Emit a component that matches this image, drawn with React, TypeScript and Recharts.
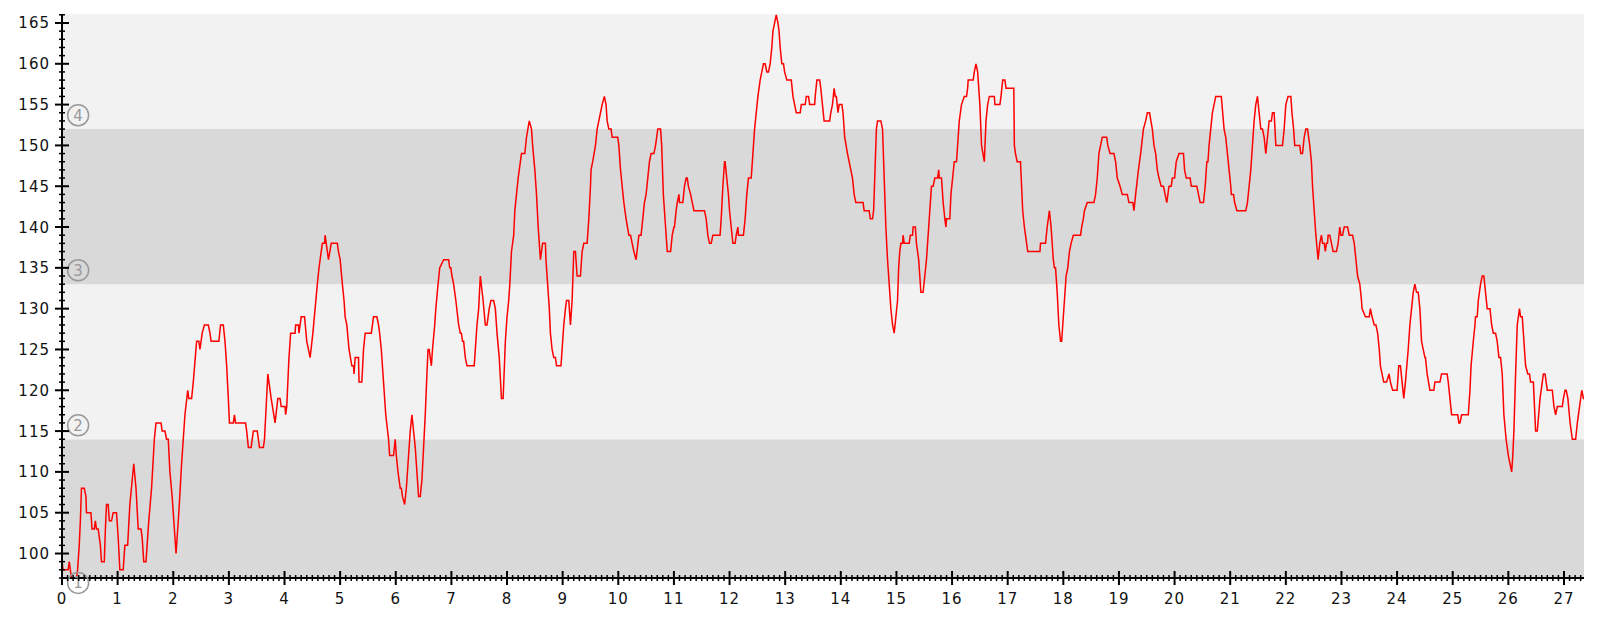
import React from 'react';
import { LineChart, Line, XAxis, YAxis, ReferenceArea, ReferenceDot } from 'recharts';

// heart rate samples as [minute, bpm], split by stretch of the session
const warmUp: [number, number][] = [
  [0, 99], [0.02, 98], [0.11, 98], [0.13, 99], [0.15, 98], [0.17, 97], [0.26, 97], [0.28, 98], [0.31, 101], [0.33, 104],
  [0.35, 108], [0.4, 108], [0.43, 107], [0.44, 105], [0.52, 105], [0.54, 103], [0.58, 103], [0.6, 104], [0.62, 103], [0.65, 103],
  [0.67, 102], [0.69, 101], [0.71, 99], [0.76, 99], [0.78, 103], [0.8, 106], [0.83, 106], [0.85, 104], [0.89, 104], [0.92, 105],
  [0.98, 105], [1.01, 102], [1.04, 98], [1.1, 98], [1.13, 101], [1.18, 101], [1.22, 106], [1.29, 111], [1.33, 108], [1.37, 103],
  [1.42, 103], [1.44, 102], [1.47, 99], [1.51, 99], [1.56, 104], [1.61, 108], [1.66, 114], [1.69, 116], [1.78, 116], [1.8, 115],
  [1.85, 115], [1.88, 114], [1.91, 114], [1.94, 110], [1.98, 107], [2.02, 103], [2.05, 100], [2.1, 105], [2.15, 111], [2.18, 114],
  [2.21, 117], [2.26, 120], [2.28, 119], [2.33, 119], [2.36, 121], [2.42, 126], [2.46, 126], [2.48, 125], [2.52, 127], [2.56, 128],
  [2.63, 128], [2.66, 127], [2.68, 126], [2.82, 126], [2.85, 128], [2.9, 128], [2.93, 126], [2.96, 123], [2.99, 119], [3.01, 116],
  [3.08, 116], [3.1, 117], [3.12, 116], [3.3, 116], [3.32, 115], [3.35, 113], [3.4, 113],
];

const buildUp: [number, number][] = [
  [3.44, 115], [3.51, 115], [3.53, 114], [3.55, 113], [3.62, 113], [3.64, 114], [3.7, 122], [3.76, 119], [3.83, 116], [3.88, 119],
  [3.92, 119], [3.94, 118], [4.01, 118], [4.02, 117], [4.04, 118], [4.08, 124], [4.11, 127], [4.19, 127], [4.2, 128], [4.25, 128],
  [4.26, 127], [4.3, 129], [4.36, 129], [4.4, 126], [4.43, 125], [4.46, 124], [4.51, 127], [4.55, 130], [4.59, 133], [4.62, 135],
  [4.64, 136], [4.68, 138], [4.72, 138], [4.73, 139], [4.75, 138], [4.79, 136], [4.84, 138], [4.95, 138], [4.97, 137], [5.0, 136],
  [5.04, 133], [5.07, 131], [5.09, 129], [5.12, 128], [5.16, 125], [5.21, 123], [5.24, 123], [5.25, 122], [5.27, 124], [5.33, 124],
  [5.34, 121], [5.39, 121], [5.42, 125], [5.45, 127], [5.56, 127], [5.6, 129], [5.66, 129], [5.69, 128], [5.71, 127], [5.74, 125],
  [5.78, 121], [5.82, 117], [5.87, 114], [5.89, 112], [5.96, 112], [5.99, 114], [6.01, 112], [6.04, 110], [6.08, 108], [6.1, 108],
  [6.12, 107], [6.16, 106], [6.19, 108], [6.22, 111], [6.26, 115], [6.29, 117], [6.32, 115], [6.35, 113], [6.38, 110], [6.4, 108],
  [6.41, 107], [6.44, 107], [6.47, 109], [6.5, 113], [6.53, 117], [6.56, 122], [6.58, 125], [6.6, 125], [6.64, 123], [6.66, 125],
  [6.7, 128], [6.72, 130], [6.76, 133], [6.79, 135],
];

const firstClimb: [number, number][] = [
  [6.86, 136], [6.95, 136], [6.97, 135], [6.99, 135], [7.01, 134], [7.04, 133], [7.08, 131], [7.13, 128], [7.16, 127], [7.18, 127],
  [7.2, 126], [7.22, 126], [7.25, 124], [7.28, 123], [7.41, 123], [7.46, 128], [7.49, 130], [7.52, 134], [7.57, 131], [7.61, 128],
  [7.64, 128], [7.68, 130], [7.71, 131], [7.76, 131], [7.79, 130], [7.82, 127], [7.86, 124], [7.9, 119], [7.93, 119], [7.97, 126],
  [8.0, 129], [8.03, 131], [8.05, 133], [8.08, 137], [8.12, 139], [8.14, 142], [8.17, 144], [8.2, 146], [8.26, 149], [8.32, 149],
  [8.35, 151], [8.4, 153], [8.44, 152], [8.46, 150], [8.5, 147], [8.53, 144], [8.56, 140], [8.58, 138], [8.6, 136], [8.62, 137],
  [8.64, 138], [8.69, 138], [8.7, 136], [8.73, 133], [8.76, 130], [8.78, 127], [8.81, 125], [8.84, 124], [8.87, 124], [8.89, 123],
  [8.97, 123], [8.99, 125], [9.02, 128], [9.05, 130], [9.07, 131], [9.11, 131], [9.12, 130], [9.14, 128], [9.17, 131], [9.2, 137],
  [9.23, 137], [9.26, 134], [9.32, 134], [9.35, 137], [9.38, 138], [9.44, 138], [9.47, 141], [9.5, 145], [9.51, 147], [9.54, 148],
  [9.59, 150], [9.62, 152], [9.65, 153], [9.68, 154], [9.71, 155], [9.75, 156], [9.78, 155], [9.8, 153], [9.83, 152], [9.87, 152],
  [9.89, 151], [9.99, 151], [10.01, 150], [10.04, 147], [10.07, 145], [10.1, 143], [10.14, 141], [10.19, 139], [10.22, 139], [10.25, 138],
  [10.28, 137], [10.32, 136],
];

const peak: [number, number][] = [
  [10.37, 139], [10.41, 139], [10.44, 141], [10.47, 143], [10.5, 144], [10.53, 146], [10.56, 148], [10.59, 149], [10.64, 149], [10.67, 150],
  [10.71, 152], [10.76, 152], [10.78, 150], [10.79, 148], [10.81, 144], [10.83, 142], [10.85, 140], [10.87, 138], [10.88, 137], [10.94, 137],
  [10.97, 139], [11.0, 140], [11.01, 140], [11.04, 142], [11.06, 143], [11.09, 144], [11.1, 143], [11.16, 143], [11.19, 145], [11.22, 146],
  [11.24, 146], [11.26, 145], [11.3, 144], [11.33, 143], [11.36, 142], [11.55, 142], [11.58, 141], [11.61, 139], [11.64, 138], [11.67, 138],
  [11.7, 139], [11.83, 139], [11.85, 141], [11.88, 145], [11.91, 148], [11.92, 148], [11.95, 146], [11.98, 144], [12.0, 142], [12.03, 140],
  [12.06, 138], [12.1, 138], [12.12, 139], [12.15, 140], [12.16, 139], [12.25, 139], [12.28, 141], [12.31, 144], [12.34, 146], [12.39, 146],
  [12.42, 149], [12.45, 152], [12.48, 154], [12.51, 156], [12.55, 158], [12.58, 159], [12.61, 160], [12.64, 160], [12.67, 159], [12.7, 159],
  [12.73, 160], [12.76, 162], [12.78, 164], [12.81, 165], [12.84, 166], [12.87, 165], [12.89, 164], [12.91, 162], [12.94, 160], [12.97, 160],
  [12.99, 159], [13.03, 158], [13.11, 158], [13.14, 156], [13.17, 155], [13.2, 154], [13.27, 154], [13.29, 155], [13.36, 155], [13.38, 156],
  [13.42, 156], [13.44, 155], [13.53, 155], [13.54, 156], [13.57, 158], [13.62, 158], [13.64, 157], [13.67, 155], [13.7, 153],
];

const middle: [number, number][] = [
  [13.8, 153], [13.82, 154], [13.85, 155], [13.88, 157], [13.9, 156], [13.92, 156], [13.95, 154], [13.97, 155], [14.02, 155], [14.04, 154],
  [14.07, 151], [14.12, 149], [14.15, 148], [14.18, 147], [14.21, 146], [14.24, 144], [14.27, 143], [14.4, 143], [14.42, 142], [14.51, 142],
  [14.53, 141], [14.57, 141], [14.59, 142], [14.61, 146], [14.64, 152], [14.66, 153], [14.72, 153], [14.75, 152], [14.77, 148], [14.79, 144],
  [14.81, 140], [14.84, 136], [14.87, 133], [14.9, 130], [14.93, 128], [14.96, 127], [14.99, 129], [15.02, 131], [15.04, 135], [15.06, 137],
  [15.08, 138], [15.11, 138], [15.12, 139], [15.14, 138], [15.23, 138], [15.25, 139], [15.29, 139], [15.3, 140], [15.34, 140], [15.36, 138],
  [15.4, 136], [15.42, 134], [15.44, 132], [15.48, 132], [15.51, 134], [15.54, 136], [15.56, 138], [15.59, 141], [15.62, 144], [15.63, 145],
  [15.66, 145], [15.69, 146], [15.74, 146], [15.76, 147], [15.77, 146], [15.81, 146], [15.84, 143], [15.87, 141], [15.89, 140], [15.9, 141],
  [15.96, 141], [15.98, 144], [16.04, 148], [16.08, 148], [16.11, 151], [16.13, 153], [16.17, 155], [16.22, 156], [16.26, 156], [16.28, 157],
  [16.29, 158], [16.38, 158], [16.4, 159], [16.43, 160], [16.46, 159], [16.5, 155], [16.53, 150], [16.58, 148], [16.61, 153], [16.64, 155],
  [16.67, 156], [16.76, 156], [16.77, 155], [16.86, 155], [16.88, 156], [16.91, 158], [16.95, 158], [16.97, 157], [17.11, 157],
];

const steady: [number, number][] = [
  [17.12, 150], [17.14, 149], [17.17, 148], [17.23, 148], [17.25, 145], [17.27, 142], [17.3, 140], [17.32, 139], [17.34, 138], [17.36, 137],
  [17.58, 137], [17.59, 138], [17.68, 138], [17.71, 140], [17.75, 142], [17.78, 140], [17.82, 136], [17.84, 135], [17.86, 135], [17.89, 132],
  [17.92, 128], [17.95, 126], [17.97, 126], [17.99, 128], [18.02, 131], [18.05, 134], [18.08, 135], [18.11, 137], [18.14, 138], [18.18, 139],
  [18.31, 139], [18.33, 140], [18.36, 141], [18.38, 142], [18.43, 143], [18.55, 143], [18.58, 144], [18.61, 146], [18.64, 149], [18.7, 151],
  [18.78, 151], [18.8, 150], [18.84, 149], [18.91, 149], [18.94, 148], [18.97, 146], [19.02, 145], [19.06, 144], [19.15, 144], [19.18, 143],
  [19.25, 143], [19.27, 142], [19.3, 144], [19.35, 147], [19.39, 149], [19.44, 152], [19.48, 153], [19.51, 154], [19.55, 154], [19.6, 152],
  [19.63, 150], [19.66, 149], [19.69, 147], [19.72, 146], [19.76, 145], [19.8, 145], [19.86, 143], [19.9, 145], [19.94, 145], [19.96, 146],
  [20.0, 146], [20.03, 148], [20.08, 149], [20.16, 149], [20.18, 147], [20.21, 146], [20.28, 146], [20.3, 145], [20.4, 145], [20.43, 144],
  [20.46, 143], [20.52, 143],
];

const lateEfforts: [number, number][] = [
  [20.55, 145], [20.58, 148], [20.6, 148], [20.62, 150], [20.65, 152], [20.68, 154], [20.71, 155], [20.74, 156], [20.84, 156], [20.89, 152],
  [20.92, 151], [20.95, 149], [20.98, 147], [21.01, 145], [21.02, 144], [21.06, 144], [21.08, 143], [21.12, 142], [21.28, 142], [21.31, 143],
  [21.34, 145], [21.37, 147], [21.4, 150], [21.43, 153], [21.46, 155], [21.49, 156], [21.52, 154], [21.55, 152], [21.58, 152], [21.61, 151],
  [21.64, 149], [21.67, 151], [21.7, 153], [21.74, 153], [21.76, 154], [21.79, 154], [21.82, 150], [21.94, 150], [21.97, 152], [22.0, 155],
  [22.04, 156], [22.09, 156], [22.11, 154], [22.14, 152], [22.16, 150], [22.25, 150], [22.27, 149], [22.3, 149], [22.33, 151], [22.36, 152],
  [22.39, 152], [22.43, 150], [22.46, 148], [22.48, 145], [22.51, 142], [22.54, 139], [22.58, 136], [22.61, 138], [22.64, 139], [22.66, 138],
  [22.69, 138], [22.71, 137], [22.73, 138], [22.75, 138], [22.76, 139], [22.79, 139], [22.82, 138], [22.85, 137], [22.91, 137], [22.94, 138],
  [22.97, 140], [22.99, 139], [23.02, 139], [23.05, 140], [23.11, 140], [23.14, 139], [23.2, 139], [23.23, 138], [23.26, 136], [23.29, 134],
  [23.33, 133], [23.36, 131], [23.37, 130], [23.43, 129], [23.5, 129], [23.52, 130], [23.55, 129], [23.59, 128], [23.62, 128], [23.65, 127],
  [23.68, 125], [23.7, 123], [23.73, 122], [23.76, 121], [23.81, 121],
];

const coolDown: [number, number][] = [
  [23.855, 122], [23.88, 121], [23.92, 120], [24.0, 120], [24.03, 123], [24.06, 123], [24.09, 121], [24.12, 119], [24.15, 121], [24.2, 125],
  [24.23, 128], [24.26, 130], [24.29, 132], [24.32, 133], [24.35, 132], [24.38, 132], [24.41, 130], [24.44, 126], [24.47, 125], [24.5, 124],
  [24.51, 124], [24.54, 122], [24.59, 120], [24.66, 120], [24.68, 121], [24.77, 121], [24.8, 122], [24.9, 122], [24.92, 121], [24.95, 119],
  [24.98, 117], [25.09, 117], [25.11, 116], [25.13, 116], [25.16, 117], [25.28, 117], [25.31, 120], [25.33, 123], [25.37, 126], [25.4, 128],
  [25.41, 129], [25.44, 129], [25.46, 131], [25.5, 133], [25.53, 134], [25.56, 134], [25.59, 132], [25.62, 130], [25.67, 130], [25.7, 128],
  [25.73, 127], [25.77, 127], [25.8, 126], [25.83, 124], [25.86, 124], [25.89, 122], [25.92, 117], [25.96, 114], [26.0, 112], [26.03, 111],
  [26.06, 110], [26.08, 112], [26.1, 115], [26.13, 122], [26.16, 128], [26.2, 130], [26.22, 129], [26.25, 129], [26.28, 126], [26.31, 123],
  [26.35, 122], [26.38, 122], [26.4, 121], [26.45, 121], [26.49, 115], [26.52, 115], [26.57, 119], [26.61, 121], [26.63, 122], [26.66, 122],
  [26.68, 121], [26.7, 120], [26.79, 120], [26.82, 118], [26.85, 117], [26.88, 118], [26.97, 118], [26.99, 119], [27.02, 120], [27.04, 120],
  [27.07, 119], [27.11, 116], [27.15, 114], [27.21, 114], [27.24, 116], [27.28, 118], [27.32, 120], [27.35, 119], [27.37, 119],
];

// zone lower bounds (bpm) and their labels
const zoneBounds = [94.7, 114, 133, 152];
const zoneLabels = ['1', '2', '3', '4'];

const xTicks = Array.from({ length: 274 }, (_, i) => i / 10);
const yTicks = Array.from({ length: 70 }, (_, i) => 97 + i);

const data = [...warmUp, ...buildUp, ...firstClimb, ...peak, ...middle, ...steady, ...lateEfforts, ...coolDown]
  .map(([t, bpm]) => ({ t, bpm }));

const DARK = '#d9d9d9';
const LIGHT = '#f2f2f2';
const FONT = '"DejaVu Sans", sans-serif';

function YTick({ x, y, payload }: any) {
  const v = payload.value;
  const major = v % 5 === 0;
  const len = major ? 7 : 3;
  return (
    <g>
      <line x1={x - len} x2={x + len} y1={y} y2={y} stroke="#000" strokeWidth={major ? 2 : 1.5} />
      {major && (
        <text x={x - 12} y={y} dy={5.5} textAnchor="end" fontFamily={FONT} fontSize={15} letterSpacing={1} fill="#111">
          {v}
        </text>
      )}
    </g>
  );
}

function XTick({ x, y, payload }: any) {
  const v = payload.value;
  const major = Math.abs(v - Math.round(v)) < 1e-6;
  const len = major ? 7 : 3;
  return (
    <g>
      <line x1={x} x2={x} y1={y - len} y2={y + len} stroke="#000" strokeWidth={major ? 2 : 1.5} />
      {major && (
        <text x={x} y={y + 26} textAnchor="middle" fontFamily={FONT} fontSize={15} letterSpacing={1} fill="#111">
          {Math.round(v)}
        </text>
      )}
    </g>
  );
}

function ZoneBadge({ cx, cy, label }: any) {
  return (
    <g>
      <circle cx={cx} cy={cy} r={10.5} fill="none" stroke="#999" strokeWidth={1.5} />
      <text x={cx} y={cy} dy={5.5} textAnchor="middle" fontFamily={FONT} fontSize={15} fill="#999">
        {label}
      </text>
    </g>
  );
}

export default function App() {
  return (
    <div style={{ width: 1584, height: 605 }}>
      <LineChart width={1584} height={605} data={data} margin={{ top: 6, right: 8, bottom: 0, left: 0 }}>
        <ReferenceArea y1={90} y2={114} fill={DARK} fillOpacity={1} stroke="none" ifOverflow="hidden" />
        <ReferenceArea y1={114} y2={133} fill={LIGHT} fillOpacity={1} stroke="none" ifOverflow="hidden" />
        <ReferenceArea y1={133} y2={152} fill={DARK} fillOpacity={1} stroke="none" ifOverflow="hidden" />
        <ReferenceArea y1={152} y2={170} fill={LIGHT} fillOpacity={1} stroke="none" ifOverflow="hidden" />
        {zoneBounds.map((b, i) => (
          <ReferenceDot
            key={b}
            x={0.29}
            y={b + 1.7}
            ifOverflow="hidden"
            shape={(p: any) => <ZoneBadge cx={p.cx} cy={p.cy} label={zoneLabels[i]} />}
          />
        ))}
        <XAxis
          dataKey="t"
          type="number"
          domain={[0, 27.36]}
          ticks={xTicks}
          interval={0}
          height={35}
          tickSize={0}
          tickMargin={0}
          tickLine={false}
          tick={<XTick />}
          axisLine={{ stroke: '#000', strokeWidth: 2 }}
          allowDataOverflow
        />
        <YAxis
          type="number"
          domain={[97, 166.1]}
          ticks={yTicks}
          interval={0}
          width={54}
          tickSize={0}
          tickMargin={0}
          tickLine={false}
          tick={<YTick />}
          axisLine={{ stroke: '#000', strokeWidth: 2 }}
          allowDataOverflow
        />
        <Line
          type="linear"
          dataKey="bpm"
          stroke="#ff0000"
          strokeWidth={1.5}
          dot={false}
          isAnimationActive={false}
        />
      </LineChart>
    </div>
  );
}
